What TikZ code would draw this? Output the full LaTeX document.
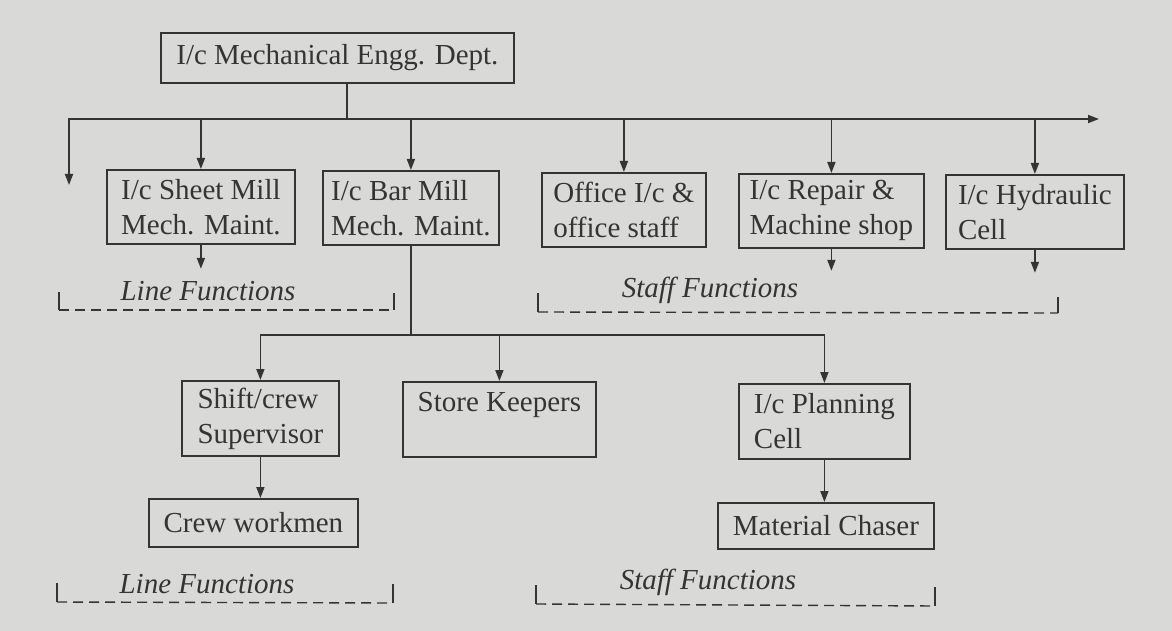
\documentclass[tikz,border=0pt]{standalone}
\usepackage{fontspec}
\setmainfont{Liberation Serif}
\usetikzlibrary{arrows.meta}
\definecolor{paper}{RGB}{217,217,215}
\definecolor{ink}{RGB}{52,52,52}
\begin{document}
\begin{tikzpicture}[x=1pt,y=-1pt,
  box/.style={draw=ink, line width=1.8pt, text=ink, align=left, inner sep=0pt,
    font=\fontsize{29}{35}\selectfont, anchor=north west},
  conn/.style={draw=ink, line width=1.7pt},
  arr/.style={conn, -{Triangle[length=11pt,width=8pt]}},
  darr/.style={conn, {Triangle[length=11pt,width=8pt]}-{Triangle[length=11pt,width=8pt]}},
  lab/.style={text=ink, font=\fontsize{29}{35}\selectfont\itshape, anchor=base, inner sep=0pt},
  brk/.style={draw=ink, line width=1.4pt},
  brkd/.style={brk, dash pattern=on 10pt off 6pt}]
\fill[paper] (0,0) rectangle (1172,631);
\useasboundingbox (0,0) rectangle (1172,631);

% boxes
\node[box, minimum width=353pt, minimum height=50pt] (top) at (160,32) {I/c Mechanical Engg. Dept.};
\node[box, minimum width=188pt, minimum height=74pt] (sheet) at (106,169) {I/c Sheet Mill\\Mech. Maint.};
\node[box, minimum width=176pt, minimum height=74pt] (bar) at (322,170) {I/c Bar Mill\\Mech. Maint.};
\node[box, minimum width=164pt, minimum height=74pt] (office) at (541,172) {Office I/c \&\\office staff};
\node[box, minimum width=185pt, minimum height=74pt] (repair) at (738,173) {I/c Repair \&\\Machine shop};
\node[box, minimum width=178pt, minimum height=74pt] (hydr) at (945,174) {I/c Hydraulic\\Cell};
\node[box, minimum width=157pt, minimum height=75pt] (shift) at (181,380) {Shift/crew\\Supervisor};
\node[box, minimum width=193pt, minimum height=75pt] (store) at (402,381) {Store Keepers\\\phantom{Store}};
\node[box, minimum width=171pt, minimum height=75pt] (plan) at (738,383) {I/c Planning\\Cell};
\node[box, minimum width=209pt, minimum height=48pt] (crew) at (148,498) {Crew workmen};
\node[box, minimum width=216pt, minimum height=46pt] (mat) at (717,502) {Material Chaser};

% top bus
\coordinate (bus) at (347,119);
\coordinate (busL) at (69,185);
\coordinate (busR) at (1099,119);
\draw[conn] (top.south -| bus) -- (bus);
\draw[darr] (busL) |- (busR);
\draw[arr] (sheet.north |- bus) -- (sheet.north);
\draw[arr] (bar.north |- bus) -- (bar.north);
\draw[arr] (office.north |- bus) -- (office.north);
\draw[arr] (repair.north |- bus) -- (repair.north);
\draw[arr] (hydr.north |- bus) -- (hydr.north);

% short down arrows
\coordinate (sheetD) at ([yshift=-24pt]sheet.south);
\coordinate (repairD) at ([yshift=-22pt]repair.south);
\coordinate (hydrD) at ([yshift=-23pt]hydr.south);
\draw[arr] (sheet.south) -- (sheetD);
\draw[arr] (repair.south) -- (repairD);
\draw[arr] (hydr.south) -- (hydrD);

% second level bus
\coordinate (lv2) at (0,335);
\coordinate (b2) at (bar.south |- lv2);
\draw[conn] (bar.south) -- (b2);
\draw[arr] (b2) -| (shift.north);
\draw[arr] (b2) -| (plan.north);
\draw[arr] (store.north |- lv2) -- (store.north);
\draw[arr] (shift.south) -- (crew.north -| shift.south);
\draw[arr] (plan.south) -- (mat.north -| plan.south);

% labels
\node[lab] (lf1) at (208,300) {Line Functions};
\node[lab] (sf1) at (710,297) {Staff Functions};
\node[lab] (lf2) at (207,593) {Line Functions};
\node[lab] (sf2) at (708,589) {Staff Functions};

% brackets
\draw[brk] (59,292) -- (59,310);
\draw[brkd] (59,310) -- (394,310);
\draw[brk] (394,293) -- (394,310);

\draw[brk] (538,293) -- (538,312);
\draw[brkd] (538,312) -- (1058,313);
\draw[brk] (1058,297) -- (1058,313);

\draw[brk] (57,583) -- (57,602);
\draw[brkd] (57,602) -- (393,603);
\draw[brk] (393,584) -- (393,603);

\draw[brk] (536,585) -- (536,604);
\draw[brkd] (536,604) -- (935,606);
\draw[brk] (935,587) -- (935,606);
\end{tikzpicture}
\end{document}
